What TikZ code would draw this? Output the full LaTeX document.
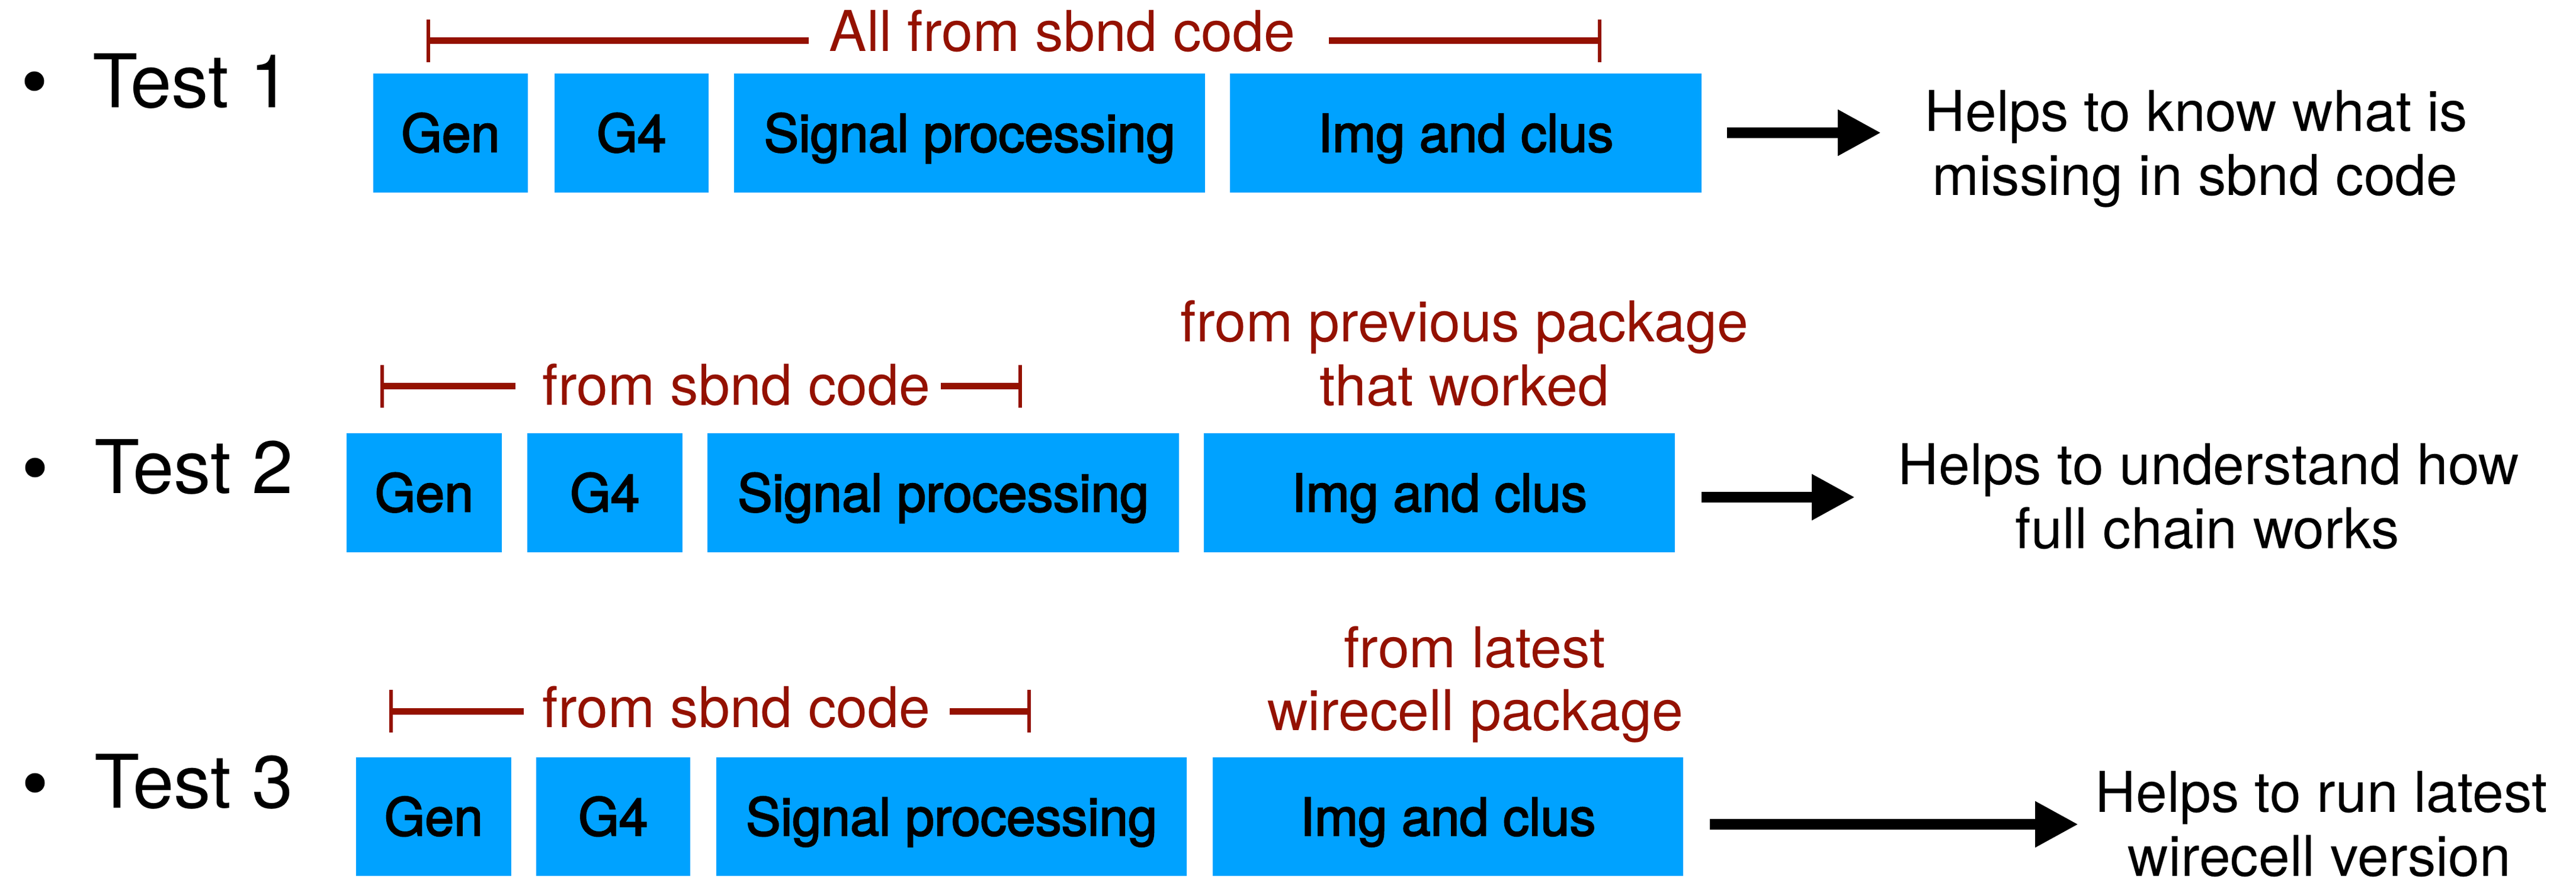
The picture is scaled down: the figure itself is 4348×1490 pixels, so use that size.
\documentclass[tikz,border=0pt]{standalone}
\usepackage{fontspec}
\setmainfont{TeX Gyre Heros}
\newfontfamily\boxfont[FakeBold=2.5]{TeX Gyre Heros}
\usetikzlibrary{arrows.meta}
\definecolor{boxblue}{HTML}{00A2FF}
\definecolor{cayenne}{HTML}{941100}
\begin{document}
\begin{tikzpicture}[x=0.1pt,y=-0.1pt,
  blk/.style={fill=boxblue, draw=none, inner sep=0pt, minimum height=20.1pt,
    font=\boxfont\fontsize{8.8pt}{10pt}\selectfont, text height=6.35pt, text depth=0pt},
  testlab/.style={anchor=base west, inner sep=0pt, font=\fontsize{12.5pt}{14pt}\selectfont},
  bul/.style={circle, fill=black, inner sep=0pt, minimum size=3.3pt},
  redtxt/.style={anchor=base, inner sep=0pt, text=cayenne, font=\fontsize{9.5pt}{10.8pt}\selectfont},
  helptxt/.style={anchor=base, inner sep=0pt, font=\fontsize{9.5pt}{10.8pt}\selectfont},
  brk/.style={draw=cayenne, line width=1.1pt},
  tk/.style={draw=cayenne, line width=0.6pt},
  arr/.style={draw=black, line width=1.8pt, -{Triangle[length=7.3pt,width=7.3pt]}}
]
\useasboundingbox (0,0) rectangle (4348,1490);

% ---------- Test 1 ----------
\node[bul] (bu1) at (58,137) {};
\node[testlab] (test1) at (154,182) {Test 1};
\node[blk, minimum width=26.1pt] (gen1) at (760.5,224.5) {Gen};
\node[blk, minimum width=26.0pt] (g41) at (1066,224.5) {G4};
\node[blk, minimum width=79.5pt] (sp1) at (1636.5,224.5) {Signal processing};
\node[blk, minimum width=79.6pt] (img1) at (2474,224.5) {Img and clus};
\node[redtxt] (r1) at (1793,87) {All from sbnd code};
\coordinate (k1a) at (723,69);
\coordinate (k1b) at (1365,69);
\coordinate (k1c) at (2243,69);
\coordinate (k1d) at (2700,69);
\draw[brk] (k1a) -- (k1b);
\draw[brk] (k1c) -- (k1d);
\draw[tk] (k1a) ++(0,-36) -- ++(0,72);
\draw[tk] (k1d) ++(0,-36) -- ++(0,72);
\coordinate (a1s) at (2915,224);
\coordinate (a1e) at (3175,224);
\draw[arr] (a1s) -- (a1e);
\node[helptxt] (h1a) at (3707,222) {Helps to know what is};
\node[helptxt] (h1b) at (3705,330) {missing in sbnd code};

% ---------- Test 2 ----------
\node[bul] (bu2) at (59,789) {};
\node[testlab] (test2) at (158,833) {Test 2};
\node[blk, minimum width=26.2pt] (gen2) at (716,831.5) {Gen};
\node[blk, minimum width=26.2pt] (g42) at (1021,831.5) {G4};
\node[blk, minimum width=79.6pt] (sp2) at (1592,831.5) {Signal processing};
\node[blk, minimum width=79.5pt] (img2) at (2429.5,831.5) {Img and clus};
\node[redtxt] (r2) at (1243,684) {from sbnd code};
\coordinate (k2a) at (645,652);
\coordinate (k2b) at (870,652);
\coordinate (k2c) at (1588,652);
\coordinate (k2d) at (1722,652);
\draw[brk] (k2a) -- (k2b);
\draw[brk] (k2c) -- (k2d);
\draw[tk] (k2a) ++(0,-36) -- ++(0,72);
\draw[tk] (k2d) ++(0,-36) -- ++(0,72);
\node[redtxt] (p2a) at (2472,577) {from previous package};
\node[redtxt] (p2b) at (2472,685) {that worked};
\coordinate (a2s) at (2872,839);
\coordinate (a2e) at (3131,839);
\draw[arr] (a2s) -- (a2e);
\node[helptxt] (h2a) at (3728,818) {Helps to understand how};
\node[helptxt] (h2b) at (3726,926) {full chain works};

% ---------- Test 3 ----------
\node[bul] (bu3) at (59,1321) {};
\node[testlab] (test3) at (158,1364) {Test 3};
\node[blk, minimum width=26.2pt] (gen3) at (732,1378) {Gen};
\node[blk, minimum width=26.0pt] (g43) at (1035,1378) {G4};
\node[blk, minimum width=79.4pt] (sp3) at (1606,1378) {Signal processing};
\node[blk, minimum width=79.4pt] (img3) at (2444,1378) {Img and clus};
\node[redtxt] (r3) at (1243,1227) {from sbnd code};
\coordinate (k3a) at (660,1200);
\coordinate (k3b) at (884,1200);
\coordinate (k3c) at (1603,1200);
\coordinate (k3d) at (1737,1200);
\draw[brk] (k3a) -- (k3b);
\draw[brk] (k3c) -- (k3d);
\draw[tk] (k3a) ++(0,-36) -- ++(0,72);
\draw[tk] (k3d) ++(0,-36) -- ++(0,72);
\node[redtxt] (p3a) at (2489,1126) {from latest};
\node[redtxt] (p3b) at (2490,1233) {wirecell package};
\coordinate (a3s) at (2886,1391);
\coordinate (a3e) at (3508,1391);
\draw[arr] (a3s) -- (a3e);
\node[helptxt] (h3a) at (3918,1370) {Helps to run latest};
\node[helptxt] (h3b) at (3915,1478) {wirecell version};
\end{tikzpicture}
\end{document}
